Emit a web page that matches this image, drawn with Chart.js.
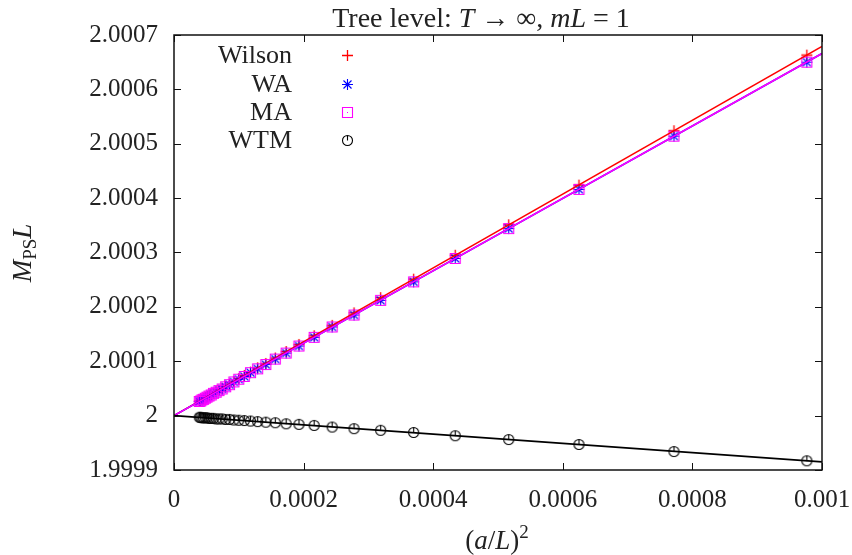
<!DOCTYPE html>
<html>
<head>
<meta charset="utf-8">
<script src="https://cdn.jsdelivr.net/npm/chart.js@4/dist/chart.umd.min.js"></script>
<style>
  html, body { margin: 0; padding: 0; background: #fff; }
</style>
</head>
<body>
<canvas id="massChart" width="852" height="555"></canvas>
<script>
// (a/L)^2 for L = 32, 36, ..., 160
const xValues = [0.0009766, 0.0007716, 0.000625, 0.0005165, 0.000434, 0.0003698, 0.0003189, 0.0002778,
    0.0002441, 0.0002163, 0.0001929, 0.0001731, 0.0001563, 0.0001417, 0.0001291, 0.0001181,
    0.0001085, 0.0001, 0.00009246, 0.00008573, 0.00007972, 0.00007432, 0.00006944, 0.00006504,
    0.00006104, 0.00005739, 0.00005407, 0.00005102, 0.00004823, 0.00004565, 0.00004328, 0.00004109, 0.00003906];

const wilson = [2.000663, 2.000524, 2.000424, 2.000351, 2.000295, 2.000251, 2.000217, 2.000189,
    2.000166, 2.000147, 2.000131, 2.000118, 2.000106, 2.000096, 2.000088, 2.000080,
    2.000074, 2.000068, 2.000063, 2.000058, 2.000054, 2.000050, 2.000047, 2.000044,
    2.000041, 2.000039, 2.000037, 2.000035, 2.000033, 2.000031, 2.000029, 2.000028, 2.000027];

const wa = [2.000650, 2.000514, 2.000416, 2.000344, 2.000289, 2.000246, 2.000212, 2.000185,
    2.000163, 2.000144, 2.000128, 2.000115, 2.000104, 2.000094, 2.000086, 2.000079,
    2.000072, 2.000067, 2.000062, 2.000057, 2.000053, 2.000049, 2.000046, 2.000043,
    2.000041, 2.000038, 2.000036, 2.000034, 2.000032, 2.000030, 2.000029, 2.000027, 2.000026];

const ma = [2.000650, 2.000514, 2.000416, 2.000344, 2.000289, 2.000246, 2.000212, 2.000185,
    2.000163, 2.000144, 2.000128, 2.000115, 2.000104, 2.000094, 2.000086, 2.000079,
    2.000072, 2.000067, 2.000062, 2.000057, 2.000053, 2.000049, 2.000046, 2.000043,
    2.000041, 2.000038, 2.000036, 2.000034, 2.000032, 2.000030, 2.000029, 2.000027, 2.000026];

const wtm = [1.999917, 1.999934, 1.999947, 1.999956, 1.999963, 1.999969, 1.999973, 1.999976,
    1.999979, 1.999982, 1.999984, 1.999985, 1.999987, 1.999988, 1.999989, 1.999990,
    1.999991, 1.9999915, 1.999992, 1.999993, 1.999993, 1.999994, 1.999994, 1.999994,
    1.999995, 1.999995, 1.999995, 1.999996, 1.999996, 1.999996, 1.999996, 1.999997, 1.999997];

// straight-line fits, all starting at 2 for a -> 0
const fitX = [0, 0.001];
const wilsonFit = [2, 2.000679];
const waFit = [2, 2.000666];
const wtmFit = [2, 1.999915];

const xTicks = [0, 0.0002, 0.0004, 0.0006, 0.0008, 0.001];
const xTickLabels = ['0', '0.0002', '0.0004', '0.0006', '0.0008', '0.001'];
const yTicks = [1.9999, 2, 2.0001, 2.0002, 2.0003, 2.0004, 2.0005, 2.0006, 2.0007];
const yTickLabels = ['1.9999', '2', '2.0001', '2.0002', '2.0003', '2.0004', '2.0005', '2.0006', '2.0007'];

const seriesNames = ['Wilson', 'WA', 'MA', 'WTM'];

const FONT = "'Liberation Serif', 'Times New Roman', serif";

// gnuplot-like point symbols drawn on small canvases
function makeMarker(kind, color) {
    const s = 13, m = 6.5, r = 5;
    const c = document.createElement('canvas');
    c.width = s; c.height = s;
    const g = c.getContext('2d');
    g.strokeStyle = color;
    g.fillStyle = color;
    g.lineWidth = kind === 'plus' ? 1.3 : 1.1;
    g.beginPath();
    if (kind === 'plus' || kind === 'star') {
        g.moveTo(m - r - 0.5, m); g.lineTo(m + r + 0.5, m);
        g.moveTo(m, m - r - 0.5); g.lineTo(m, m + r + 0.5);
    }
    if (kind === 'star') {
        const d = r * 0.8;
        g.moveTo(m - d, m - d); g.lineTo(m + d, m + d);
        g.moveTo(m - d, m + d); g.lineTo(m + d, m - d);
    }
    if (kind === 'box') {
        g.rect(m - r, m - r, 2 * r, 2 * r);
        g.fillRect(6, 6, 1, 1);
    }
    if (kind === 'circle') {
        g.arc(m, m, r, 0, Math.PI * 2);
        g.moveTo(m, m); g.lineTo(m, m - r);
    }
    g.stroke();
    return c;
}

const markers = [
    makeMarker('plus', '#ff0000'),
    makeMarker('star', '#0000ff'),
    makeMarker('box', '#ff00ff'),
    makeMarker('circle', '#000000'),
];

function toPoints(xs, ys) {
    return xs.map((x, i) => ({ x: x, y: ys[i] }));
}

// draw a run of text pieces (normal / italic / sub / sup), centred on x
function drawRich(ctx, parts, x, y, size) {
    const fontOf = p => `${p.it ? 'italic ' : ''}${Math.round(size * (p.scale || 1))}px ${FONT}`;
    let total = 0;
    parts.forEach(p => { ctx.font = fontOf(p); total += ctx.measureText(p.t).width; });
    let cx = x - total / 2;
    ctx.textAlign = 'left';
    ctx.textBaseline = 'alphabetic';
    parts.forEach(p => {
        ctx.font = fontOf(p);
        ctx.fillText(p.t, cx, y + (p.dy || 0));
        cx += ctx.measureText(p.t).width;
    });
}

const framePlugin = {
    id: 'frame',
    afterDraw(chart) {
        const { ctx, chartArea: a, scales: { x, y } } = chart;
        ctx.save();
        ctx.strokeStyle = '#111';
        ctx.lineWidth = 1.5;
        ctx.strokeRect(a.left, a.top, a.right - a.left, a.bottom - a.top);
        ctx.lineWidth = 1;
        ctx.beginPath();
        xTicks.forEach(v => {
            const px = Math.round(x.getPixelForValue(v)) + 0.5;
            ctx.moveTo(px, a.bottom); ctx.lineTo(px, a.bottom - 7);
            ctx.moveTo(px, a.top); ctx.lineTo(px, a.top + 7);
        });
        yTicks.forEach(v => {
            const py = Math.round(y.getPixelForValue(v)) + 0.5;
            ctx.moveTo(a.left, py); ctx.lineTo(a.left + 7, py);
            ctx.moveTo(a.right, py); ctx.lineTo(a.right - 7, py);
        });
        ctx.stroke();

        ctx.fillStyle = '#222';
        // title
        drawRich(ctx, [
            { t: 'Tree level: ' }, { t: 'T', it: 1 }, { t: ' \u2192 \u221E, ' },
            { t: 'mL', it: 1 }, { t: ' = 1' }
        ], 481, 27, 28);
        // x axis title
        drawRich(ctx, [
            { t: '(' }, { t: 'a', it: 1 }, { t: '/' }, { t: 'L', it: 1 }, { t: ')' },
            { t: '2', scale: 0.7, dy: -11 }
        ], 497, 549, 27);
        // y axis title
        ctx.save();
        ctx.translate(31, 253);
        ctx.rotate(-Math.PI / 2);
        drawRich(ctx, [
            { t: 'M', it: 1 }, { t: 'PS', scale: 0.7, dy: 5 }, { t: 'L', it: 1 }
        ], 0, 0, 27);
        ctx.restore();

        // legend
        ctx.font = `26px ${FONT}`;
        ctx.textAlign = 'right';
        ctx.textBaseline = 'middle';
        const rows = [55, 84, 112, 140];
        seriesNames.forEach((name, i) => {
            ctx.fillText(name, 292, rows[i] + 1);
            ctx.drawImage(markers[i], 347 - 6, rows[i] - 6);
        });
        ctx.restore();
    }
};

function pointSet(label, ys, marker, order) {
    return {
        label: label,
        data: toPoints(xValues, ys),
        showLine: false,
        pointStyle: marker,
        pointRadius: 6,
        order: order,
    };
}

function fitSet(label, ys, color) {
    return {
        label: label,
        data: toPoints(fitX, ys),
        showLine: true,
        borderColor: color,
        borderWidth: 1.6,
        pointRadius: 0,
        order: 0,
    };
}

const ctx = document.getElementById('massChart').getContext('2d');
new Chart(ctx, {
    type: 'scatter',
    data: {
        datasets: [
            fitSet('WTM fit', wtmFit, '#000000'),
            fitSet('MA fit', waFit, '#ff00ff'),
            fitSet('WA fit', waFit, '#0000ff'),
            fitSet('Wilson fit', wilsonFit, '#ff0000'),
            pointSet(seriesNames[3], wtm, markers[3], 1),
            pointSet(seriesNames[2], ma, markers[2], 2),
            pointSet(seriesNames[1], wa, markers[1], 3),
            pointSet(seriesNames[0], wilson, markers[0], 4),
        ]
    },
    options: {
        responsive: false,
        devicePixelRatio: 1,
        animation: false,
        layout: { padding: { top: 35, right: 30, left: 0, bottom: 0 } },
        plugins: {
            legend: { display: false },
            tooltip: { enabled: false },
        },
        scales: {
            x: {
                type: 'linear',
                min: 0,
                max: 0.001,
                afterBuildTicks: s => { s.ticks = xTicks.map(v => ({ value: v })); },
                afterFit: s => { s.height = 85; s.paddingLeft = 0; s.paddingRight = 0; },
                grid: { display: false },
                border: { display: false },
                ticks: {
                    color: '#222',
                    font: { family: FONT, size: 25 },
                    padding: 7,
                    maxRotation: 0,
                    callback: (v, i) => xTickLabels[i],
                },
            },
            y: {
                type: 'linear',
                min: 1.9999,
                max: 2.0007,
                afterBuildTicks: s => { s.ticks = yTicks.map(v => ({ value: v })); },
                afterFit: s => { s.width = 174; s.paddingTop = 0; s.paddingBottom = 0; },
                grid: { display: false },
                border: { display: false },
                ticks: {
                    color: '#222',
                    font: { family: FONT, size: 25 },
                    padding: 8,
                    callback: (v, i) => yTickLabels[i],
                },
            },
        },
    },
    plugins: [framePlugin],
});
</script>
</body>
</html>
